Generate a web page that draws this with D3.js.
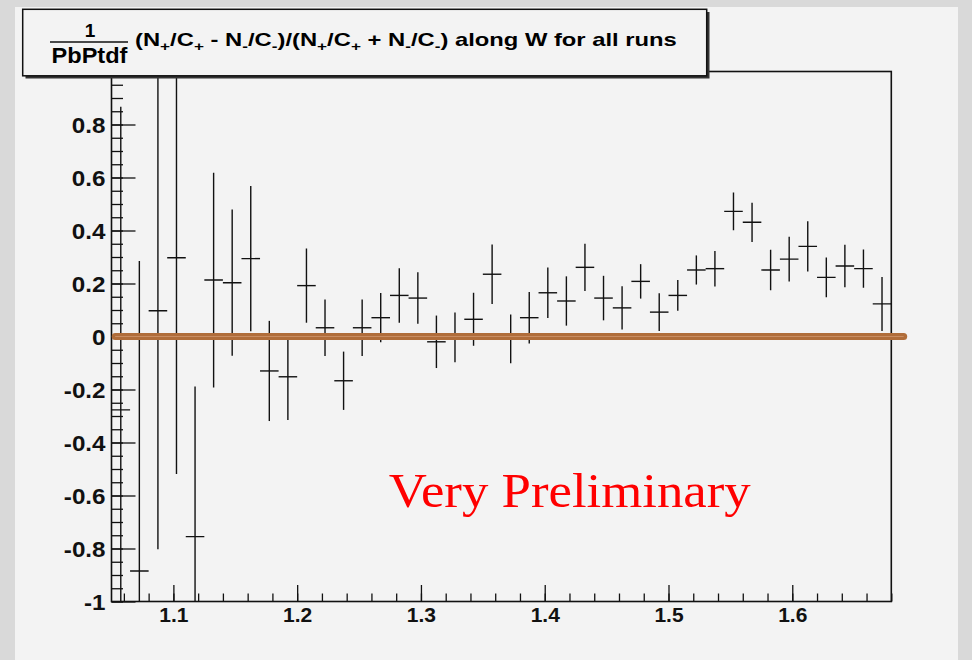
<!DOCTYPE html>
<html>
<head>
<meta charset="utf-8">
<script src="https://cdn.jsdelivr.net/npm/d3@7"></script>
<style>
  html, body { margin: 0; padding: 0; background: #d9d9d9; }
  svg { display: block; }
  .tick text { font-family: "Liberation Sans", Arial, sans-serif; font-weight: bold; fill: #111; }
</style>
</head>
<body>
<svg id="chart" width="972" height="660"></svg>
<script>
// bin centres in W (GeV), 42 bins of 0.015
const wCenters = [1.0575, 1.0725, 1.0875, 1.1025, 1.1175, 1.1325, 1.1475, 1.1625, 1.1775, 1.1925,
                  1.2075, 1.2225, 1.2375, 1.2525, 1.2675, 1.2825, 1.2975, 1.3125, 1.3275, 1.3425,
                  1.3575, 1.3725, 1.3875, 1.4025, 1.4175, 1.4325, 1.4475, 1.4625, 1.4775, 1.4925,
                  1.5075, 1.5225, 1.5375, 1.5525, 1.5675, 1.5825, 1.5975, 1.6125, 1.6275, 1.6425,
                  1.6575, 1.6725];
const binHalfWidth = 0.0075;
const asymValues = [-0.277, -0.885, 0.097, 0.297, -0.755, 0.213, 0.203, 0.294, -0.130, -0.152,
                    0.192, 0.033, -0.167, 0.033, 0.071, 0.155, 0.145, -0.020, -0.003, 0.065,
                    0.235, -0.009, 0.071, 0.165, 0.134, 0.261, 0.145, 0.108, 0.208, 0.092,
                    0.155, 0.251, 0.256, 0.472, 0.431, 0.251, 0.292, 0.340, 0.223, 0.266,
                    0.256, 0.123];
const asymErrors = [1.144, 1.17, 0.9, 0.816, 0.566, 0.405, 0.276, 0.274, 0.189, 0.163,
                    0.14, 0.107, 0.11, 0.107, 0.093, 0.103, 0.097, 0.099, 0.094, 0.1,
                    0.112, 0.092, 0.097, 0.095, 0.093, 0.089, 0.084, 0.082, 0.065, 0.071,
                    0.058, 0.055, 0.067, 0.071, 0.074, 0.076, 0.084, 0.095, 0.075, 0.08,
                    0.072, 0.102];

const xDomain = [1.05, 1.68];
const yDomain = [-1, 1];
const xTickLabels = [1.1, 1.2, 1.3, 1.4, 1.5, 1.6];
const yTickLabels = [-1, -0.8, -0.6, -0.4, -0.2, 0, 0.2, 0.4, 0.6, 0.8];
const zeroLineW = [1.053, 1.69];

const svg = d3.select("#chart");

// slide background + canvas
svg.append("rect").attr("width", 972).attr("height", 660).attr("fill", "#d9d9d9");
svg.append("rect").attr("x", 15).attr("y", 7).attr("width", 943).attr("height", 653).attr("fill", "#f3f3f3");

const x = d3.scaleLinear().domain(xDomain).range([111.5, 891.3]);
const y = d3.scaleLinear().domain(yDomain).range([601.5, 71.5]);

svg.append("clipPath").attr("id", "frame-clip")
  .append("rect")
  .attr("x", x(xDomain[0])).attr("y", y(yDomain[1]))
  .attr("width", x(xDomain[1]) - x(xDomain[0]))
  .attr("height", y(yDomain[0]) - y(yDomain[1]));

// minor ticks
svg.append("g")
  .attr("transform", `translate(${x(xDomain[0])},0)`)
  .call(d3.axisLeft(y).tickValues(y.ticks(40)).tickSize(-11.5).tickSizeOuter(0).tickFormat(""))
  .call(g => g.select(".domain").remove())
  .call(g => g.selectAll("line").attr("stroke", "#111").attr("stroke-width", 1.3));

svg.append("g")
  .attr("transform", `translate(0,${y(yDomain[0])})`)
  .call(d3.axisBottom(x).tickValues(x.ticks(31)).tickSize(-8).tickSizeOuter(0).tickFormat(""))
  .call(g => g.select(".domain").remove())
  .call(g => g.selectAll("line").attr("stroke", "#111").attr("stroke-width", 1.3));

// major ticks + labels (plain hyphen for negatives, like the original)
const yAxis = svg.append("g")
  .attr("transform", `translate(${x(xDomain[0])},0)`)
  .call(d3.axisLeft(y).tickValues(yTickLabels.concat([1])).tickSize(-24).tickSizeOuter(0).tickPadding(6)
    .tickFormat(d => d === 1 ? "" : String(d)))
  .call(g => g.select(".domain").remove())
  .call(g => g.selectAll("line").attr("stroke", "#111").attr("stroke-width", 1.3));
yAxis.selectAll("text")
  .attr("font-size", 22)
  .attr("dy", null)
  .attr("x", null)
  .attr("transform", "translate(-6,7.5) scale(1.1,1)");

const xAxis = svg.append("g")
  .attr("transform", `translate(0,${y(yDomain[0])})`)
  .call(d3.axisBottom(x).tickValues(xTickLabels).tickSize(-16.5).tickSizeOuter(0).tickPadding(6)
    .tickFormat(d3.format(".1f")))
  .call(g => g.select(".domain").remove())
  .call(g => g.selectAll("line").attr("stroke", "#111").attr("stroke-width", 1.3));
xAxis.selectAll("text").attr("font-size", 21);

// frame
svg.append("rect")
  .attr("x", x(xDomain[0])).attr("y", y(yDomain[1]))
  .attr("width", x(xDomain[1]) - x(xDomain[0]))
  .attr("height", y(yDomain[0]) - y(yDomain[1]))
  .attr("fill", "none").attr("stroke", "#111").attr("stroke-width", 1.6);

// data: error crosses
const pts = wCenters.map((w, i) => ({ w: w, v: asymValues[i], e: asymErrors[i] }));
const marks = svg.append("g").attr("clip-path", "url(#frame-clip)")
  .attr("stroke", "#111").attr("stroke-width", 1.4);

marks.selectAll(".ebar")
  .data(pts)
  .enter().append("line")
  .attr("class", "ebar")
  .attr("x1", d => x(d.w)).attr("x2", d => x(d.w))
  .attr("y1", d => y(d.v + d.e)).attr("y2", d => y(d.v - d.e));

marks.selectAll(".hbar")
  .data(pts)
  .enter().append("line")
  .attr("class", "hbar")
  .attr("x1", d => x(d.w - binHalfWidth)).attr("x2", d => x(d.w + binHalfWidth))
  .attr("y1", d => y(d.v)).attr("y2", d => y(d.v));

// zero reference line
svg.append("line")
  .attr("x1", x(zeroLineW[0])).attr("x2", x(zeroLineW[1]))
  .attr("y1", y(0)).attr("y2", y(0))
  .attr("stroke", "#b06d3a").attr("stroke-width", 7).attr("stroke-linecap", "round");
svg.append("line")
  .attr("x1", x(zeroLineW[0])).attr("x2", x(zeroLineW[1]))
  .attr("y1", y(0)).attr("y2", y(0))
  .attr("stroke", "#c98d62").attr("stroke-width", 1);

// title box
svg.append("rect").attr("x", 25.5).attr("y", 12).attr("width", 684).attr("height", 66.5).attr("fill", "#333");
svg.append("rect").attr("x", 22.7).attr("y", 9.3).attr("width", 684).attr("height", 66.5)
  .attr("fill", "#f3f3f3").attr("stroke", "#111").attr("stroke-width", 1.5);

const titleFont = "'Liberation Sans', Arial, sans-serif";
svg.append("text").attr("x", 90).attr("y", 37).attr("text-anchor", "middle")
  .attr("font-family", titleFont).attr("font-weight", "bold").attr("font-size", 19).text("1");
svg.append("line").attr("x1", 50).attr("x2", 128).attr("y1", 42).attr("y2", 42)
  .attr("stroke", "#111").attr("stroke-width", 1.6);
const denom = svg.append("text").attr("font-family", titleFont).attr("font-weight", "bold")
  .attr("font-size", 22).text("PbPtdf");
const dw = denom.node().getComputedTextLength();
denom.attr("transform", `translate(51.5,62.5) scale(${76 / dw},1)`);

const title = svg.append("text").attr("font-family", titleFont).attr("font-weight", "bold")
  .attr("font-size", 18);
const parts = [["(N", 0], ["+", 1], ["/C", 0], ["+", 1], [" - N", 0], ["-", 1], ["/C", 0], ["-", 1],
               [")/(N", 0], ["+", 1], ["/C", 0], ["+", 1], [" + N", 0], ["-", 1], ["/C", 0], ["-", 1],
               [") along W for all runs", 0]];
let shifted = false;
parts.forEach(([t, sub]) => {
  const ts = title.append("tspan").text(t);
  if (sub && !shifted) { ts.attr("dy", 5).attr("font-size", 13); shifted = true; }
  else if (sub) { ts.attr("font-size", 13); }
  else if (shifted) { ts.attr("dy", -5); shifted = false; }
});
const tw = title.node().getComputedTextLength();
title.attr("transform", `translate(135,46) scale(${542 / tw},1)`);

// watermark
svg.append("text")
  .attr("x", 388.7).attr("y", 507)
  .attr("font-family", "'Liberation Serif', 'Times New Roman', serif")
  .attr("font-size", 48).attr("fill", "#ff0000")
  .attr("textLength", 362).attr("lengthAdjust", "spacingAndGlyphs")
  .text("Very Preliminary");
</script>
</body>
</html>
